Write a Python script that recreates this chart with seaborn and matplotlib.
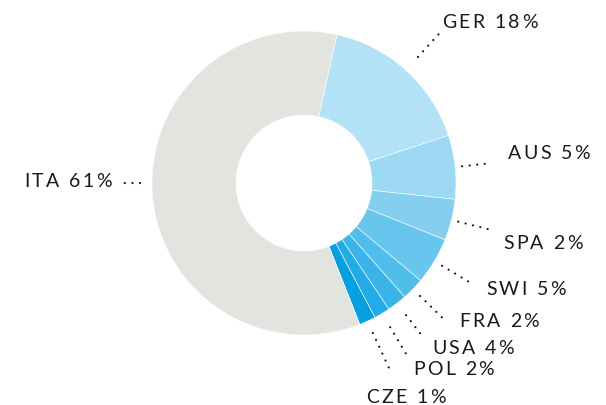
import numpy as np
import matplotlib
matplotlib.use("Agg")
import matplotlib.pyplot as plt
from matplotlib.font_manager import FontProperties
import seaborn as sns

# ---- data ----
countries = ["GER", "AUS", "SPA", "SWI", "FRA", "USA", "POL", "CZE", "ITA"]
shares = [16.5, 6.8, 4.4, 5.0, 2.4, 2.1, 1.7, 1.75, 59.6]      # slice sizes
label_pct = [18, 5, 2, 5, 2, 4, 2, 1, 61]                        # printed labels
colors_hex = ["#b3e1f6", "#9dd9f3", "#84cff0", "#68c5ee", "#50bdea",
              "#3ab4e8", "#22abe5", "#05a0e0", "#e1e4df"]

# ---- layout (pixels) ----
W, H = 606, 406
CX, CY = 304, 184
R_OUT, R_IN = 152, 68
START_CW_FROM_TOP = 12.5
lead_r_in = [170, 159, 159, 161, 162, 167, 168, 165, 164]
lead_r_out = [204, 184, 193, 195, 195, 192, 200, 208, 181]
angle_override = {"ITA": 270.0}
text_pos = [(442, 28, "left"), (508, 159, "left"), (503, 249, "left"),
            (486, 295, "left"), (459, 327, "left"), (432, 354, "left"),
            (413, 375, "left"), (366, 403, "left"), (112, 187, "right")]
FONT_SIZE = 14
TRACKING = 2.4  # px between characters

sns.set_theme(style="white")
plt.rcParams["font.family"] = ["Lato", "DejaVu Sans"]

fig = plt.figure(figsize=(W / 100, H / 100), dpi=100)
ax = fig.add_axes([0, 0, 1, 1])
palette = sns.color_palette(colors_hex)

ax.pie(shares, colors=palette, startangle=90 - START_CW_FROM_TOP,
       counterclock=False, center=(CX, H - CY), radius=R_OUT,
       wedgeprops=dict(width=R_OUT - R_IN, edgecolor="white", linewidth=0.4))

ax.set_xlim(0, W)
ax.set_ylim(0, H)
ax.set_aspect("equal")
ax.axis("off")

renderer = fig.canvas.get_renderer()
fp = FontProperties(family=["Lato", "DejaVu Sans"], size=FONT_SIZE)


def char_w(ch):
    if ch == " ":
        w2, _, _ = renderer.get_text_width_height_descent("a a", fp, ismath=False)
        w1, _, _ = renderer.get_text_width_height_descent("aa", fp, ismath=False)
        return w2 - w1
    w, _, _ = renderer.get_text_width_height_descent(ch, fp, ismath=False)
    return w


def tracked_text(x, y, s, ha):
    widths = [char_w(ch) for ch in s]
    total = sum(widths) + TRACKING * (len(s) - 1)
    cx = x if ha == "left" else x - total
    for ch, w in zip(s, widths):
        if ch != " ":
            ax.text(cx, H - y, ch, ha="left", va="baseline",
                    fontproperties=fp, color="#1a1a1a")
        cx += w + TRACKING


tot = float(sum(shares))
cum = 0.0
for i, c in enumerate(countries):
    mid = START_CW_FROM_TOP + (cum + shares[i] / 2) / tot * 360.0
    cum += shares[i]
    a = np.deg2rad(angle_override.get(c, mid))
    dx, dy = np.sin(a), -np.cos(a)
    x0, y0 = CX + lead_r_in[i] * dx, CY + lead_r_in[i] * dy
    x1, y1 = CX + lead_r_out[i] * dx, CY + lead_r_out[i] * dy
    ax.plot([x0, x1], [H - y0, H - y1], color="#111111", lw=1.6,
            linestyle=(0, (0.01, 3.4)), dash_capstyle="round")
    tx, ty, ha = text_pos[i]
    tracked_text(tx, ty, f"{c} {label_pct[i]}%", ha)

fig.savefig("out.png", dpi=100)
